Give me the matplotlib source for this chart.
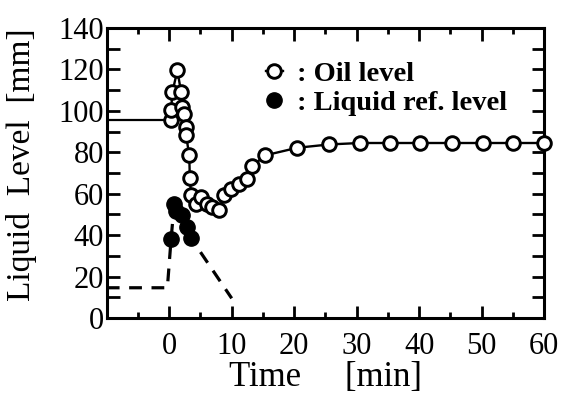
import matplotlib
matplotlib.use("Agg")
import matplotlib.pyplot as plt
from matplotlib.ticker import MultipleLocator, FixedLocator

# Oil level (open circles)
oil_t = [0.3, 0.3, 0.5, 1.3, 1.9, 2.1, 2.4, 2.7, 2.7, 3.2, 3.3, 3.5, 4.3, 5.1, 6.1, 6.9,
         8.0, 8.8, 9.9, 11.2, 12.4, 13.3, 15.3, 20.5, 25.6, 30.5, 35.4, 40.2, 45.3, 50.3, 55.1, 60.0]
oil_y = [95.4, 100.2, 109.0, 119.6, 109.0, 101.8, 98.6, 92.2, 88.2, 78.5, 67.5, 59.2, 55.2, 58.4, 55.2, 53.5,
         52.3, 59.2, 62.4, 64.8, 67.0, 73.2, 78.5, 82.2, 83.8, 84.5, 84.5, 84.5, 84.5, 84.5, 84.5, 84.5]
# initial oil level line before start
oil_pre_t = [-10, 0.3]
oil_pre_y = [95.4, 95.4]

# Liquid reference level (filled circles)
liq_t = [0.3, 0.8, 1.1, 2.0, 2.9, 3.5]
liq_y = [38.3, 55.2, 51.5, 49.5, 43.9, 38.5]
# dashed guide line
liq_line_t = [-10, -0.3, 0.3, 0.8, 1.1, 2.0, 2.9, 3.5, 10.0]
liq_line_y = [14.6, 14.6, 38.3, 55.2, 51.5, 49.5, 43.9, 38.5, 9.5]

x_ticks = [0, 10, 20, 30, 40, 50, 60]
y_ticks = [0, 20, 40, 60, 80, 100, 120, 140]

plt.rcParams['font.family'] = ['Liberation Serif', 'DejaVu Serif']

fig = plt.figure(figsize=(5.62, 4.01), dpi=100)
ax = fig.add_axes([0.190, 0.207, 0.778, 0.723])

ax.plot(oil_pre_t, oil_pre_y, color='black', lw=1.6, zorder=2)
ax.plot(liq_line_t, liq_line_y, color='black', lw=2.3, ls=(0, (4, 3)), zorder=2)
ax.plot(oil_t, oil_y, color='black', lw=1.7, marker='o', ms=9.8, mfc='white',
        mec='black', mew=2.1, zorder=3, clip_on=False, label=': Oil level')
ax.plot(liq_t, liq_y, ls='none', marker='o', ms=11, mfc='black', mec='black',
        zorder=4, label=': Liquid ref. level')

ax.set_xlim(-10, 60)
ax.set_ylim(0, 140)
ax.xaxis.set_major_locator(FixedLocator(x_ticks))
ax.xaxis.set_minor_locator(MultipleLocator(5))
ax.yaxis.set_major_locator(FixedLocator(y_ticks))
ax.yaxis.set_minor_locator(MultipleLocator(10))

ax.tick_params(which='both', direction='in', top=True, right=True, width=2.0,
               labelsize=22)
ax.tick_params(axis='x', which='major', length=9, pad=10)
ax.tick_params(axis='x', which='minor', length=4)
ax.tick_params(axis='y', which='major', length=9, pad=2)
ax.tick_params(axis='y', which='minor', length=9)
for s in ax.spines.values():
    s.set_linewidth(2.2)

ax.set_xlabel('Time     [min]', fontsize=25, labelpad=0)
ax.set_ylabel('Liquid  Level  [mm]', fontsize=24)
ax.yaxis.set_label_coords(-0.16, 0.53)

leg = ax.legend(loc='upper left', bbox_to_anchor=(0.305, 0.975), frameon=False,
                handlelength=0.6, handletextpad=0.5, labelspacing=0.1,
                prop={'weight': 'bold', 'size': 20.5})

fig.savefig('out.png', dpi=100)
